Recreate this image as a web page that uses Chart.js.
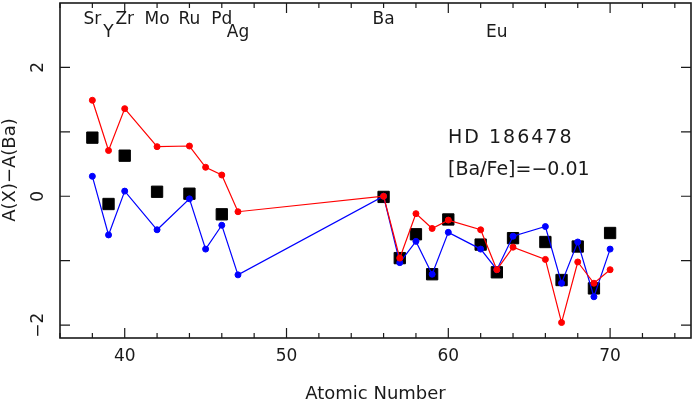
<!doctype html>
<html>
<head>
<title>HD 186478 abundances</title>
	<script src="https://cdn.jsdelivr.net/npm/chart.js@4/dist/chart.umd.min.js"></script>
	<style>
		html, body { margin: 0; padding: 0; background: #fff; }
		#wrap { width: 692px; height: 402px; }
	</style>
</head>

<body>
	<div id="wrap">
		<canvas id="canvas" width="692" height="402"></canvas>
	</div>
	<script>
		// atomic numbers of the model curves
		var modelZ = [38, 39, 40, 42, 44, 45, 46, 47, 56, 57, 58, 59, 60, 62, 63, 64, 66, 67, 68, 69, 70];
		var redVals = [1.49, 0.71, 1.36, 0.77, 0.78, 0.45, 0.33, -0.24, 0, -0.96, -0.27, -0.50, -0.37, -0.52, -1.14, -0.79, -0.98, -1.96, -1.02, -1.35, -1.14];
		var blueVals = [0.31, -0.60, 0.08, -0.52, -0.04, -0.82, -0.45, -1.22, 0, -1.03, -0.70, -1.21, -0.56, -0.82, -1.14, -0.62, -0.47, -1.35, -0.71, -1.56, -0.82];

		// observed abundances (black squares)
		var obsZ = [38, 39, 40, 42, 44, 46, 56, 57, 58, 59, 60, 62, 63, 64, 66, 67, 68, 69, 70];
		var obsVals = [0.91, -0.12, 0.63, 0.07, 0.04, -0.28, -0.01, -0.96, -0.59, -1.21, -0.36, -0.75, -1.18, -0.65, -0.71, -1.30, -0.78, -1.43, -0.57];

		// element names along the top
		var elementNames = ['Sr', 'Y', 'Zr', 'Mo', 'Ru', 'Pd', 'Ag', 'Ba', 'Eu'];
		var elementZ = [38, 39, 40, 42, 44, 46, 47, 56, 63];
		var elementRow = [0, 1, 0, 0, 0, 0, 1, 0, 1];

		var xTickLabels = [40, 50, 60, 70];
		var xMinorTicks = [36, 38, 42, 44, 46, 48, 52, 54, 56, 58, 62, 64, 66, 68, 72, 74];
		var yTickLabels = [-2, 0, 2];
		var yTicks = [-2, -1, 0, 1, 2];

		function toPoints(xs, ys) {
			return xs.map(function(x, i) {
				return {x: x, y: ys[i]};
			});
		}

		var FONT = '"DejaVu Sans", sans-serif';
		var INK = '#1a1a1a';

		var framePlugin = {
			id: 'frame',
			afterDatasetsDraw: function(chart) {
				var ctx = chart.ctx;
				var a = chart.chartArea;
				var xs = chart.scales.x;
				var ys = chart.scales.y;
				ctx.save();
				ctx.strokeStyle = INK;
				ctx.lineWidth = 1.6;
				ctx.strokeRect(a.left, a.top, a.right - a.left, a.bottom - a.top);

				ctx.lineWidth = 1.2;
				ctx.beginPath();
				xTickLabels.forEach(function(v) {
					var px = xs.getPixelForValue(v);
					ctx.moveTo(px, a.bottom); ctx.lineTo(px, a.bottom - 10);
					ctx.moveTo(px, a.top); ctx.lineTo(px, a.top + 10);
				});
				xMinorTicks.forEach(function(v) {
					var px = xs.getPixelForValue(v);
					ctx.moveTo(px, a.bottom); ctx.lineTo(px, a.bottom - 5);
					ctx.moveTo(px, a.top); ctx.lineTo(px, a.top + 5);
				});
				yTicks.forEach(function(v) {
					var py = ys.getPixelForValue(v);
					ctx.moveTo(a.left, py); ctx.lineTo(a.left + 10, py);
					ctx.moveTo(a.right, py); ctx.lineTo(a.right - 10, py);
				});
				ctx.stroke();

				ctx.fillStyle = INK;
				ctx.textAlign = 'center';
				ctx.textBaseline = 'middle';
				ctx.font = '17px ' + FONT;
				xTickLabels.forEach(function(v) {
					ctx.fillText(String(v), xs.getPixelForValue(v), 357);
				});
				yTickLabels.forEach(function(v) {
					ctx.save();
					ctx.translate(39, ys.getPixelForValue(v));
					ctx.rotate(-Math.PI / 2);
					ctx.fillText(String(v).replace('-', '\u2212'), 0, 0);
					ctx.restore();
				});

				elementNames.forEach(function(name, i) {
					ctx.fillText(name, xs.getPixelForValue(elementZ[i]), elementRow[i] ? 33 : 20);
				});

				ctx.font = '18px ' + FONT;
				ctx.fillText('Atomic Number', (a.left + a.right) / 2, 394);
				ctx.save();
				ctx.translate(10, 170);
				ctx.rotate(-Math.PI / 2);
				ctx.fillText('A(X)\u2212A(Ba)', 0, 0);
				ctx.restore();

				ctx.textAlign = 'left';
				ctx.font = '19px ' + FONT;
				ctx.letterSpacing = '2px';
				ctx.fillText('HD 186478', 448, 138);
				ctx.letterSpacing = '0px';
				ctx.fillText('[Ba/Fe]=\u22120.01', 448, 170);
				ctx.restore();
			}
		};

		var config = {
			type: 'scatter',
			data: {
				datasets: [{
					label: 'red model',
					data: toPoints(modelZ, redVals),
					showLine: true,
					borderColor: '#ff0000',
					backgroundColor: '#ff0000',
					borderWidth: 1.2,
					pointRadius: 3,
					pointBorderWidth: 1,
					order: 1
				}, {
					label: 'blue model',
					data: toPoints(modelZ, blueVals),
					showLine: true,
					borderColor: '#0000ff',
					backgroundColor: '#0000ff',
					borderWidth: 1.2,
					pointRadius: 3,
					pointBorderWidth: 1,
					order: 2
				}, {
					label: 'observed',
					data: toPoints(obsZ, obsVals),
					showLine: false,
					pointStyle: 'rect',
					pointRadius: 8,
					pointBorderWidth: 1,
					borderColor: '#000000',
					backgroundColor: '#000000',
					order: 3
				}]
			},
			options: {
				responsive: false,
				animation: false,
				layout: {
					autoPadding: false,
					padding: {left: 60, top: 3, right: 1, bottom: 64}
				},
				plugins: {
					legend: {display: false},
					tooltip: {enabled: false}
				},
				scales: {
					x: {type: 'linear', min: 36, max: 75, display: false},
					y: {type: 'linear', min: -2.2, max: 3.0, display: false}
				}
			},
			plugins: [framePlugin]
		};

		window.onload = function() {
			var ctx = document.getElementById('canvas').getContext('2d');
			window.myChart = new Chart(ctx, config);
		};
	</script>
</body>

</html>
